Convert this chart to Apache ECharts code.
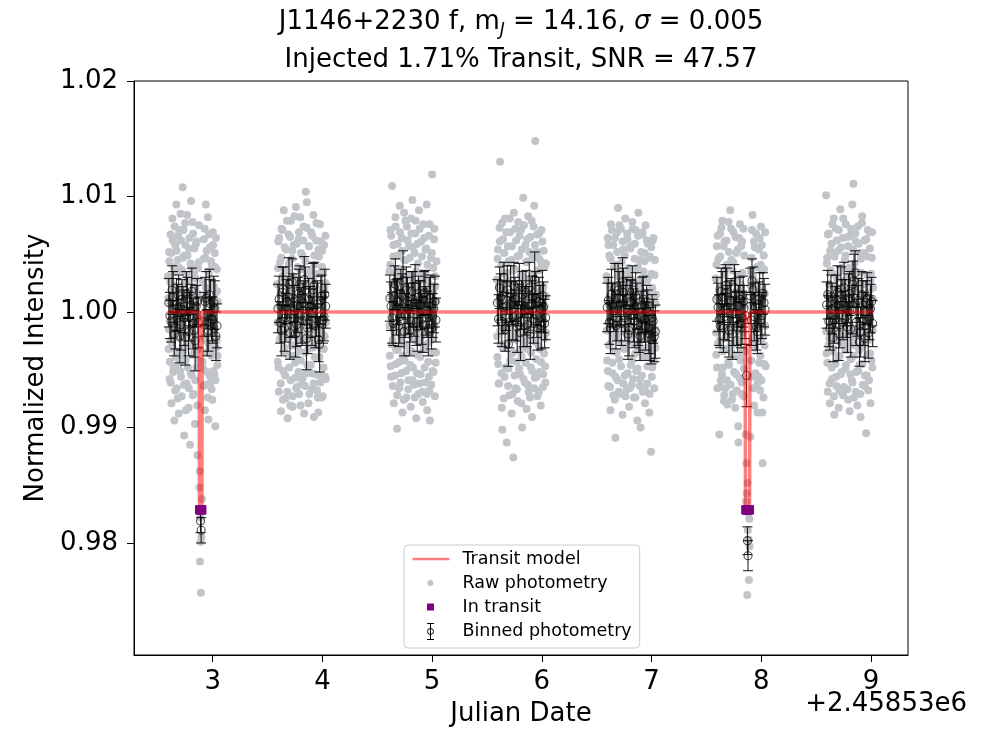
<!DOCTYPE html>
<html>
<head>
<meta charset="utf-8">
<script src="https://cdn.jsdelivr.net/npm/echarts@6/dist/echarts.min.js"></script>
<style>html,body{margin:0;padding:0;background:#fff}#c{width:986px;height:734px}</style>
</head>
<body>
<div id="c"></div>
<script>
// ---------------- data ----------------
const xTicks = [3, 4, 5, 6, 7, 8, 9];
const yTicks = [0.98, 0.99, 1.00, 1.01, 1.02];
const xOffsetText = '+2.45853e6';

// raw photometry per night: [time - 2458530, normalized flux]
const rawN1 = [[2.592,1.0031],[2.598,0.9968],[2.603,1.0052],[2.607,0.9942],[2.611,1.0008],[2.616,1.0067],[2.620,0.9975],[2.624,0.9921],[2.629,1.0024],[2.633,1.0081],[2.638,0.9989],[2.642,0.9953],[2.646,1.0039],[2.651,0.9906],[2.655,1.0012],[2.660,1.0058],[2.664,0.9961],[2.669,1.0093],[2.673,0.9934],[2.678,1.0004],[2.682,1.0045],[2.687,0.9978],[2.691,0.9912],[2.695,1.0071],[2.700,1.0019],[2.704,0.9949],[2.709,0.9995],[2.713,1.0062],[2.718,0.9927],[2.722,1.0036],[2.727,1.0108],[2.731,0.9966],[2.736,1.0003],[2.740,0.9893],[2.745,1.0049],[2.749,1.0077],[2.754,0.9958],[2.758,1.0015],[2.763,0.9938],[2.767,1.0084],[2.772,0.9985],[2.776,1.0028],[2.781,0.9917],[2.785,1.0055],[2.790,0.9972],[2.794,0.9885],[2.799,1.0042],[2.803,1.0096],[2.808,0.9945],[2.812,1.0011],[2.817,0.9963],[2.821,1.0068],[2.826,0.9929],[2.830,1.0034],[2.835,0.9981],[2.839,0.9903],[2.844,1.0021],[2.848,1.0059],[2.853,0.9952],[2.857,0.9994],[2.862,0.9876],[2.866,1.0038],[2.871,0.9968],[2.875,1.0075],[2.880,0.9848],[2.884,0.9784],[2.889,0.9822],[2.893,0.9757],[2.898,0.9805],[2.902,0.9838],[2.907,0.9957],[2.911,1.0026],[2.916,0.9936],[2.920,1.0063],[2.925,0.9988],[2.929,0.9915],[2.934,1.0047],[2.938,1.0093],[2.943,0.9975],[2.947,1.0014],[2.952,0.9948],[2.956,1.0082],[2.961,0.9907],[2.965,1.0033],[2.970,0.9971],[2.974,1.0056],[2.979,0.9939],[2.983,1.0008],[2.988,0.9962],[2.992,1.0041],[2.997,0.9924],[3.001,1.0069],[3.006,0.9983],[3.010,1.0022],[3.015,0.9946],[3.019,1.0051],[3.024,0.9901],[3.028,1.0017],[3.033,0.9969],[3.037,1.0037],[3.042,0.9954],[3.046,1.0009]];
const rawN1b = [[2.595,1.0012],[2.600,0.9985],[2.605,1.0044],[2.609,0.9957],[2.613,1.0026],[2.618,0.9939],[2.622,1.0051],[2.627,0.9973],[2.631,1.0007],[2.636,1.0062],[2.640,0.9948],[2.644,1.0019],[2.649,0.9981],[2.653,1.0074],[2.658,0.9932],[2.662,1.0035],[2.667,0.9966],[2.671,1.0053],[2.676,0.9991],[2.680,0.9925],[2.685,1.0066],[2.689,1.0002],[2.693,0.9955],[2.698,1.0038],[2.702,0.9977],[2.707,1.0085],[2.711,0.9944],[2.716,1.0013],[2.720,0.9962],[2.725,1.0047],[2.729,0.9988],[2.734,1.0071],[2.738,0.9937],[2.743,1.0024],[2.747,0.9969],[2.752,1.0058],[2.756,0.9915],[2.761,1.0032],[2.765,0.9979],[2.770,1.0049],[2.774,0.9952],[2.779,1.0008],[2.783,0.9934],[2.788,1.0064],[2.792,0.9986],[2.797,1.0017],[2.801,0.9947],[2.806,1.0039],[2.810,0.9973],[2.815,1.0078],[2.819,0.9928],[2.824,1.0004],[2.828,0.9964],[2.833,1.0055],[2.837,0.9992],[2.842,0.9941],[2.846,1.0029],[2.851,0.9976],[2.855,1.0061],[2.860,0.9919],[2.864,1.0016],[2.869,0.9958],[2.873,1.0043],[2.882,0.9862],[2.891,0.9801],[2.900,0.9829],[2.909,1.0011],[2.913,0.9951],[2.918,1.0046],[2.922,0.9978],[2.927,1.0072],[2.931,0.9937],[2.936,1.0021],[2.940,0.9965],[2.945,1.0053],[2.949,0.9992],[2.954,0.9926],[2.958,1.0035],[2.963,0.9974],[2.967,1.0067],[2.972,0.9945],[2.976,1.0009],[2.981,0.9981],[2.985,1.0044],[2.990,0.9933],[2.994,1.0027],[2.999,0.9968],[3.003,1.0058],[3.008,0.9949],[3.012,1.0003],[3.017,0.9986],[3.021,1.0039],[3.026,0.9941],[3.030,1.0064],[3.035,0.9975],[3.039,1.0018],[3.044,0.9962]];
const rawN2 = [[3.588,1.0024],[3.593,0.9957],[3.598,1.0061],[3.603,0.9931],[3.608,1.0005],[3.613,1.0043],[3.618,0.9978],[3.623,0.9914],[3.628,1.0072],[3.633,0.9989],[3.638,1.0031],[3.643,0.9949],[3.648,1.0088],[3.653,0.9966],[3.658,1.0012],[3.663,0.9925],[3.668,1.0054],[3.673,0.9983],[3.678,1.0036],[3.683,0.9908],[3.688,0.9997],[3.693,1.0067],[3.698,0.9952],[3.703,1.0019],[3.708,0.9919],[3.713,1.0079],[3.718,0.9971],[3.723,1.0046],[3.728,0.9918],[3.733,1.0003],[3.738,1.0058],[3.743,0.9962],[3.748,1.0027],[3.753,0.9943],[3.758,1.0091],[3.763,0.9985],[3.768,0.9935],[3.773,1.0039],[3.778,0.9976],[3.783,1.0063],[3.788,0.9929],[3.793,1.0015],[3.798,1.0082],[3.803,0.9958],[3.808,1.0006],[3.813,0.9938],[3.818,1.0049],[3.823,0.9991],[3.828,1.0074],[3.833,0.9912],[3.838,1.0022],[3.843,0.9965],[3.848,1.0104],[3.853,0.9947],[3.858,1.0095],[3.863,1.0033],[3.868,0.9979],[3.873,0.9921],[3.878,1.0057],[3.883,0.9986],[3.888,1.0011],[3.893,0.9954],[3.898,1.0069],[3.903,0.9933],[3.908,1.0028],[3.913,0.9969],[3.918,1.0084],[3.923,0.9909],[3.928,1.0041],[3.933,0.9993],[3.938,0.9946],[3.943,1.0062],[3.948,0.9975],[3.953,1.0017],[3.958,0.9926],[3.963,0.9913],[3.968,1.0048],[3.973,0.9961],[3.978,1.0076],[3.983,0.9939],[3.988,1.0009],[3.993,0.9982],[3.998,1.0053],[4.003,0.9927],[4.008,1.0035],[4.013,0.9968],[4.018,1.0021],[4.023,0.9944],[4.028,1.0066],[4.033,0.9991]];
const rawN2b = [[3.590,0.9991],[3.596,1.0038],[3.600,0.9952],[3.606,1.0064],[3.611,0.9976],[3.616,1.0015],[3.620,0.9938],[3.626,1.0047],[3.631,0.9983],[3.636,1.0071],[3.641,0.9924],[3.646,1.0029],[3.650,0.9969],[3.656,1.0056],[3.661,0.9945],[3.666,1.0008],[3.671,0.9987],[3.676,1.0079],[3.681,0.9931],[3.686,1.0022],[3.691,0.9962],[3.696,1.0042],[3.701,0.9978],[3.706,1.0065],[3.711,0.9941],[3.716,1.0004],[3.721,0.9989],[3.726,1.0053],[3.731,0.9927],[3.736,1.0031],[3.741,0.9971],[3.746,1.0083],[3.751,0.9956],[3.756,1.0012],[3.761,0.9934],[3.766,1.0059],[3.771,0.9985],[3.776,1.0026],[3.781,0.9948],[3.786,1.0069],[3.791,0.9966],[3.796,1.0037],[3.801,0.9919],[3.806,1.0051],[3.811,0.9992],[3.816,1.0018],[3.821,0.9943],[3.826,1.0062],[3.831,0.9975],[3.836,1.0009],[3.841,0.9936],[3.846,1.0044],[3.851,0.9981],[3.856,1.0073],[3.861,0.9954],[3.866,1.0024],[3.871,0.9968],[3.876,1.0057],[3.881,0.9929],[3.886,1.0035],[3.891,0.9987],[3.896,1.0011],[3.901,0.9947],[3.906,1.0066],[3.911,0.9973],[3.916,1.0028],[3.921,0.9938],[3.926,1.0049],[3.931,0.9961],[3.936,1.0005],[3.941,0.9984],[3.946,1.0077],[3.951,0.9932],[3.956,1.0033],[3.961,0.9977],[3.966,1.0054],[3.971,0.9945],[3.976,1.0019],[3.981,0.9969],[3.986,1.0061],[3.991,0.9926],[3.996,1.0039],[4.001,0.9988],[4.006,1.0013],[4.011,0.9952],[4.016,1.0058],[4.021,0.9979],[4.026,1.0025],[4.031,0.9942]];
const rawN3 = [[4.610,1.0035],[4.615,0.9962],[4.620,1.0071],[4.625,0.9944],[4.630,1.0013],[4.635,1.0109],[4.640,0.9976],[4.645,1.0048],[4.650,0.9921],[4.655,1.0026],[4.660,0.9987],[4.665,1.0082],[4.670,0.9955],[4.675,1.0006],[4.680,0.9899],[4.685,1.0059],[4.690,0.9968],[4.695,1.0037],[4.700,0.9934],[4.705,1.0092],[4.710,0.9981],[4.715,1.0018],[4.720,0.9947],[4.725,1.0064],[4.730,0.9913],[4.735,1.0029],[4.740,0.9972],[4.745,1.0086],[4.750,0.9958],[4.755,1.0003],[4.760,1.0045],[4.765,0.9926],[4.770,1.0074],[4.775,0.9989],[4.780,1.0032],[4.785,0.9941],[4.790,1.0057],[4.795,0.9966],[4.800,1.0011],[4.805,0.9918],[4.810,1.0068],[4.815,0.9979],[4.820,1.0097],[4.825,0.9952],[4.830,1.0024],[4.835,0.9937],[4.840,1.0051],[4.845,0.9984],[4.850,1.0079],[4.855,0.9908],[4.860,1.0015],[4.865,0.9963],[4.870,1.0042],[4.875,0.9929],[4.880,1.0088],[4.885,0.9974],[4.890,1.0007],[4.895,0.9946],[4.900,1.0061],[4.905,0.9991],[4.910,1.0033],[4.915,0.9922],[4.920,1.0076],[4.925,0.9968],[4.930,1.0019],[4.935,0.9939],[4.940,1.0054],[4.945,0.9981],[4.950,1.0093],[4.955,0.9915],[4.960,1.0027],[4.965,0.9957],[4.970,1.0066],[4.975,0.9932],[4.980,0.9906],[4.985,1.0012],[4.990,1.0047],[4.995,0.9976],[5.000,1.0119],[5.005,0.9949],[5.010,1.0038],[5.015,0.9986],[5.020,1.0072],[5.025,0.9927],[5.030,1.0022],[5.035,0.9965],[5.040,1.0044]];
const rawN3b = [[4.612,0.9988],[4.617,1.0041],[4.622,0.9953],[4.627,1.0066],[4.632,0.9972],[4.637,1.0024],[4.642,0.9936],[4.647,1.0058],[4.652,0.9983],[4.657,1.0011],[4.662,0.9945],[4.667,1.0074],[4.672,0.9967],[4.677,1.0032],[4.682,0.9928],[4.687,1.0049],[4.692,0.9991],[4.697,1.0016],[4.702,0.9957],[4.707,1.0069],[4.712,0.9939],[4.717,1.0037],[4.722,0.9978],[4.727,1.0053],[4.732,0.9962],[4.737,1.0008],[4.742,0.9924],[4.747,1.0045],[4.752,0.9986],[4.757,1.0079],[4.762,0.9949],[4.767,1.0021],[4.772,0.9971],[4.777,1.0062],[4.782,0.9933],[4.787,1.0014],[4.792,0.9982],[4.797,1.0047],[4.802,0.9954],[4.807,1.0081],[4.812,0.9966],[4.817,1.0029],[4.822,0.9941],[4.827,1.0056],[4.832,0.9989],[4.837,1.0003],[4.842,0.9926],[4.847,1.0068],[4.852,0.9975],[4.857,1.0035],[4.862,0.9947],[4.867,1.0059],[4.872,0.9984],[4.877,1.0019],[4.882,0.9938],[4.887,1.0072],[4.892,0.9961],[4.897,1.0027],[4.902,0.9979],[4.907,1.0048],[4.912,0.9931],[4.917,1.0012],[4.922,0.9968],[4.927,1.0064],[4.932,0.9952],[4.937,1.0033],[4.942,0.9986],[4.947,1.0055],[4.952,0.9929],[4.957,1.0041],[4.962,0.9973],[4.967,1.0007],[4.972,0.9944],[4.977,1.0076],[4.982,0.9981],[4.987,1.0023],[4.992,0.9937],[4.997,1.0051],[5.002,0.9965],[5.007,1.0017],[5.012,0.9948],[5.017,1.0063],[5.022,0.9988],[5.027,1.0031],[5.032,0.9956],[5.037,1.0009]];
const rawN4 = [[5.590,1.0028],[5.595,0.9961],[5.600,1.0054],[5.605,0.9938],[5.610,1.0009],[5.615,1.0073],[5.620,1.0130],[5.625,0.9972],[5.630,1.0041],[5.635,0.9917],[5.640,0.9898],[5.645,1.0063],[5.650,0.9985],[5.655,1.0019],[5.660,0.9944],[5.665,1.0081],[5.670,0.9969],[5.675,1.0034],[5.680,0.9887],[5.685,1.0002],[5.690,1.0057],[5.695,0.9951],[5.700,1.0026],[5.705,0.9928],[5.710,1.0069],[5.715,0.9978],[5.720,1.0045],[5.725,0.9912],[5.730,1.0011],[5.735,0.9965],[5.740,0.9874],[5.745,1.0086],[5.750,0.9992],[5.755,1.0037],[5.760,0.9934],[5.765,1.0062],[5.770,0.9957],[5.775,1.0016],[5.780,0.9923],[5.785,1.0078],[5.790,0.9981],[5.795,1.0049],[5.800,0.9946],[5.805,1.0006],[5.810,1.0071],[5.815,0.9962],[5.820,0.9900],[5.825,1.0031],[5.830,1.0099],[5.835,0.9975],[5.840,1.0023],[5.845,0.9939],[5.850,1.0058],[5.855,0.9987],[5.860,0.9916],[5.865,1.0044],[5.870,0.9968],[5.875,1.0083],[5.880,0.9931],[5.885,1.0012],[5.890,0.9976],[5.895,1.0065],[5.900,0.9952],[5.905,1.0029],[5.910,0.9909],[5.915,1.0047],[5.920,0.9984],[5.925,1.0074],[5.930,1.0092],[5.935,0.9943],[5.940,1.0148],[5.945,1.0018],[5.950,0.9959],[5.955,1.0052],[5.960,0.9927],[5.965,1.0036],[5.970,0.9971],[5.975,1.0068],[5.980,0.9948],[5.985,1.0008],[5.990,0.9919],[5.995,1.0043],[6.000,0.9979],[6.005,1.0061],[6.010,0.9935],[6.015,1.0022],[6.020,0.9964],[6.025,1.0039],[6.030,0.9953],[6.035,1.0014],[6.040,0.9982]];
const rawN4b = [[5.592,0.9979],[5.597,1.0046],[5.602,0.9955],[5.607,1.0022],[5.612,0.9938],[5.617,1.0061],[5.622,0.9984],[5.627,1.0013],[5.632,0.9947],[5.637,1.0077],[5.642,0.9969],[5.647,1.0034],[5.652,0.9925],[5.657,1.0051],[5.662,0.9991],[5.667,1.0008],[5.672,0.9952],[5.677,1.0069],[5.682,0.9973],[5.687,1.0027],[5.692,0.9936],[5.697,1.0044],[5.702,0.9987],[5.707,1.0081],[5.712,0.9958],[5.717,1.0015],[5.722,0.9964],[5.727,1.0057],[5.732,0.9929],[5.737,1.0036],[5.742,0.9981],[5.747,1.0006],[5.752,0.9945],[5.757,1.0072],[5.762,0.9976],[5.767,1.0024],[5.772,0.9933],[5.777,1.0048],[5.782,0.9989],[5.787,1.0011],[5.792,0.9951],[5.797,1.0066],[5.802,0.9967],[5.807,1.0031],[5.812,0.9921],[5.817,1.0054],[5.822,0.9983],[5.827,1.0019],[5.832,0.9942],[5.837,1.0075],[5.842,0.9971],[5.847,1.0004],[5.852,0.9956],[5.857,1.0043],[5.862,0.9986],[5.867,1.0063],[5.872,0.9937],[5.877,1.0028],[5.882,0.9978],[5.887,1.0052],[5.892,0.9926],[5.897,1.0016],[5.902,0.9965],[5.907,1.0079],[5.912,0.9949],[5.917,1.0033],[5.922,0.9992],[5.927,1.0009],[5.932,0.9934],[5.937,1.0058],[5.942,0.9974],[5.947,1.0025],[5.952,0.9944],[5.957,1.0067],[5.962,0.9985],[5.967,1.0012],[5.972,0.9931],[5.977,1.0046],[5.982,0.9968],[5.987,1.0037],[5.992,0.9957],[5.997,1.0071],[6.002,0.9982],[6.007,1.0018],[6.012,0.9946],[6.017,1.0053],[6.022,0.9977],[6.027,1.0005],[6.032,0.9939],[6.037,1.0042]];
const rawN5 = [[6.590,1.0031],[6.595,0.9958],[6.600,1.0064],[6.605,0.9936],[6.610,1.0007],[6.615,1.0049],[6.620,0.9972],[6.625,0.9915],[6.630,1.0076],[6.635,0.9989],[6.640,1.0023],[6.645,0.9947],[6.650,1.0058],[6.655,0.9966],[6.660,1.0014],[6.665,0.9924],[6.670,0.9891],[6.675,1.0041],[6.680,0.9978],[6.685,1.0069],[6.690,0.9941],[6.695,1.0090],[6.700,1.0003],[6.705,0.9959],[6.710,1.0035],[6.715,0.9929],[6.720,1.0072],[6.725,0.9983],[6.730,1.0019],[6.735,0.9911],[6.740,1.0054],[6.745,0.9969],[6.750,1.0027],[6.755,0.9945],[6.760,1.0081],[6.765,0.9987],[6.770,1.0011],[6.775,0.9933],[6.780,1.0063],[6.785,0.9975],[6.790,1.0038],[6.795,0.9918],[6.800,1.0005],[6.805,1.0057],[6.810,0.9954],[6.815,1.0024],[6.820,0.9937],[6.825,1.0078],[6.830,0.9981],[6.835,1.0016],[6.840,0.9926],[6.845,1.0046],[6.850,0.9964],[6.855,1.0071],[6.860,0.9949],[6.865,1.0009],[6.870,0.9906],[6.875,1.0039],[6.880,1.0086],[6.885,0.9973],[6.890,1.0021],[6.895,0.9942],[6.900,0.9900],[6.905,1.0052],[6.910,0.9985],[6.915,1.0067],[6.920,0.9931],[6.925,1.0013],[6.930,0.9967],[6.935,1.0044],[6.940,0.9921],[6.945,1.0075],[6.950,0.9979],[6.955,1.0026],[6.960,0.9938],[6.965,1.0059],[6.970,0.9961],[6.975,1.0018],[6.980,0.9913],[6.985,1.0048],[6.990,0.9986],[6.995,0.9879],[7.000,1.0033],[7.005,0.9952],[7.010,1.0062],[7.015,0.9974],[7.020,1.0008],[7.025,0.9934],[7.030,1.0045],[7.035,0.9969],[7.040,1.0015]];
const rawN5b = [[6.592,0.9984],[6.597,1.0027],[6.602,0.9949],[6.607,1.0058],[6.612,0.9971],[6.617,1.0013],[6.622,0.9935],[6.627,1.0046],[6.632,0.9988],[6.637,1.0071],[6.642,0.9956],[6.647,1.0022],[6.652,0.9928],[6.657,1.0039],[6.662,0.9979],[6.667,1.0064],[6.672,0.9944],[6.677,1.0009],[6.682,0.9965],[6.687,1.0052],[6.692,0.9986],[6.697,1.0031],[6.702,0.9931],[6.707,1.0075],[6.712,0.9974],[6.717,1.0017],[6.722,0.9953],[6.727,1.0043],[6.732,0.9989],[6.737,1.0061],[6.742,0.9938],[6.747,1.0024],[6.752,0.9968],[6.757,1.0049],[6.762,0.9927],[6.767,1.0006],[6.772,0.9981],[6.777,1.0068],[6.782,0.9947],[6.787,1.0033],[6.792,0.9975],[6.797,1.0015],[6.802,0.9934],[6.807,1.0055],[6.812,0.9987],[6.817,1.0028],[6.822,0.9958],[6.827,1.0072],[6.832,0.9942],[6.837,1.0011],[6.842,0.9972],[6.847,1.0059],[6.852,0.9926],[6.857,1.0037],[6.862,0.9983],[6.867,1.0004],[6.872,0.9951],[6.877,1.0066],[6.882,0.9967],[6.887,1.0026],[6.892,0.9936],[6.897,1.0045],[6.902,0.9978],[6.907,1.0018],[6.912,0.9945],[6.917,1.0069],[6.922,0.9961],[6.927,1.0035],[6.932,0.9991],[6.937,1.0051],[6.942,0.9932],[6.947,1.0008],[6.952,0.9969],[6.957,1.0062],[6.962,0.9953],[6.967,1.0029],[6.972,0.9984],[6.977,1.0047],[6.982,0.9929],[6.987,1.0013],[6.992,0.9966],[6.997,1.0056],[7.002,0.9944],[7.007,1.0021],[7.012,0.9979],[7.017,1.0064],[7.022,0.9957],[7.027,1.0032],[7.032,0.9985],[7.037,1.0007]];
const rawN6 = [[7.585,1.0029],[7.590,0.9963],[7.595,1.0057],[7.600,0.9934],[7.605,1.0012],[7.610,1.0046],[7.617,0.9894],[7.620,0.9975],[7.625,1.0068],[7.630,0.9941],[7.635,1.0021],[7.640,0.9986],[7.645,1.0079],[7.650,0.9952],[7.655,1.0004],[7.660,0.9923],[7.665,1.0061],[7.672,0.9934],[7.675,1.0037],[7.680,0.9968],[7.685,1.0041],[7.690,0.9920],[7.695,1.0016],[7.700,0.9957],[7.705,1.0052],[7.710,0.9981],[7.717,1.0088],[7.720,0.9937],[7.725,1.0072],[7.730,0.9965],[7.735,1.0009],[7.740,0.9929],[7.745,1.0043],[7.750,0.9972],[7.755,1.0027],[7.763,0.9917],[7.765,1.0065],[7.770,0.9946],[7.775,1.0018],[7.780,0.9984],[7.785,1.0054],[7.790,0.9901],[7.792,0.9887],[7.795,1.0031],[7.800,0.9961],[7.805,1.0076],[7.810,0.9958],[7.815,1.0024],[7.820,0.9939],[7.825,1.0061],[7.830,0.9982],[7.835,1.0013],[7.840,0.9927],[7.845,1.0049],[7.850,0.9966],[7.858,0.9894],[7.863,0.9869],[7.868,0.9843],[7.872,0.9755],[7.877,0.9811],[7.882,0.9826],[7.887,0.9768],[7.893,0.9797],[7.900,0.9892],[7.905,1.0035],[7.910,0.9944],[7.915,1.0071],[7.920,1.0084],[7.925,0.9978],[7.930,1.0008],[7.935,0.9919],[7.940,1.0056],[7.945,0.9969],[7.950,1.0026],[7.955,0.9944],[7.960,1.0039],[7.965,0.9913],[7.973,0.9944],[7.975,1.0019],[7.980,0.9956],[7.985,1.0064],[7.990,0.9932],[7.995,1.0041],[8.000,0.9977],[8.005,1.0058],[8.009,0.9913],[8.012,0.9869],[8.015,1.0011],[8.020,0.9926],[8.025,1.0037],[8.030,0.9971],[8.035,1.0069],[8.040,0.9953]];
const rawN6b = [[7.587,0.9982],[7.592,1.0041],[7.597,0.9952],[7.602,1.0066],[7.607,0.9973],[7.612,1.0019],[7.622,0.9935],[7.627,1.0048],[7.632,0.9989],[7.637,1.0073],[7.642,0.9946],[7.647,1.0014],[7.652,0.9966],[7.657,1.0057],[7.662,0.9928],[7.667,1.0032],[7.677,0.9979],[7.682,1.0062],[7.687,0.9941],[7.692,1.0025],[7.697,0.9985],[7.702,1.0078],[7.707,0.9954],[7.712,1.0009],[7.722,0.9971],[7.727,1.0045],[7.732,0.9924],[7.737,1.0036],[7.742,0.9987],[7.747,1.0069],[7.752,0.9948],[7.757,1.0012],[7.767,0.9962],[7.772,1.0051],[7.777,0.9932],[7.782,1.0027],[7.787,0.9976],[7.797,1.0064],[7.802,0.9943],[7.807,1.0018],[7.812,0.9988],[7.817,1.0057],[7.822,0.9929],[7.827,1.0034],[7.832,0.9967],[7.837,1.0072],[7.842,0.9951],[7.847,1.0006],[7.860,0.9836],[7.874,0.9852],[7.884,0.9803],[7.890,0.9821],[7.902,1.0023],[7.907,0.9958],[7.912,1.0047],[7.917,0.9972],[7.922,1.0031],[7.927,0.9934],[7.932,1.0061],[7.937,0.9984],[7.942,1.0013],[7.947,0.9947],[7.952,1.0068],[7.957,0.9975],[7.962,1.0022],[7.967,0.9938],[7.977,1.0054],[7.982,0.9986],[7.987,1.0009],[7.992,0.9962],[7.997,1.0074],[8.002,0.9941],[8.007,1.0036],[8.017,0.9979],[8.022,1.0049],[8.027,0.9955],[8.032,1.0016],[8.037,0.9988]];
const rawN7 = [[8.590,1.0101],[8.595,0.9964],[8.600,1.0047],[8.605,0.9931],[8.610,1.0014],[8.615,1.0068],[8.620,0.9977],[8.625,0.9921],[8.630,1.0036],[8.635,0.9985],[8.640,1.0059],[8.645,0.9942],[8.650,1.0023],[8.655,0.9968],[8.660,1.0081],[8.665,0.9911],[8.670,1.0004],[8.675,0.9955],[8.680,1.0072],[8.685,0.9936],[8.690,1.0029],[8.695,0.9981],[8.700,1.0053],[8.705,0.9917],[8.710,1.0016],[8.715,0.9962],[8.720,1.0089],[8.725,0.9946],[8.730,1.0038],[8.735,0.9974],[8.740,1.0064],[8.745,0.9928],[8.750,1.0007],[8.755,0.9989],[8.760,1.0045],[8.765,0.9951],[8.770,1.0076],[8.775,0.9967],[8.780,1.0019],[8.785,0.9933],[8.790,1.0057],[8.795,0.9978],[8.800,1.0031],[8.805,0.9914],[8.810,1.0066],[8.815,0.9959],[8.820,1.0012],[8.825,0.9941],[8.830,1.0093],[8.835,0.9983],[8.840,1.0111],[8.845,0.9926],[8.850,1.0042],[8.855,0.9971],[8.860,1.0061],[8.865,0.9948],[8.870,1.0008],[8.875,0.9919],[8.880,1.0074],[8.885,0.9986],[8.890,1.0027],[8.895,0.9954],[8.900,1.0051],[8.905,0.9909],[8.910,1.0034],[8.915,0.9969],[8.920,1.0083],[8.925,0.9937],[8.930,1.0015],[8.935,0.9979],[8.940,1.0062],[8.945,0.9945],[8.950,1.0024],[8.955,0.9895],[8.960,1.0048],[8.965,0.9963],[8.970,1.0071],[8.975,0.9932],[8.980,1.0005],[8.985,0.9976],[8.990,1.0055],[8.995,0.9921],[9.000,1.0033],[9.005,0.9958],[9.010,1.0069],[9.015,0.9984],[9.020,1.0021]];
const rawN7b = [[8.592,0.9983],[8.597,1.0042],[8.602,0.9956],[8.607,1.0067],[8.612,0.9971],[8.617,1.0024],[8.622,0.9938],[8.627,1.0053],[8.632,0.9989],[8.637,1.0011],[8.642,0.9952],[8.647,1.0076],[8.652,0.9966],[8.657,1.0033],[8.662,0.9927],[8.667,1.0048],[8.672,0.9985],[8.677,1.0019],[8.682,0.9944],[8.687,1.0062],[8.692,0.9975],[8.697,1.0007],[8.702,0.9961],[8.707,1.0071],[8.712,0.9932],[8.717,1.0036],[8.722,0.9979],[8.727,1.0056],[8.732,0.9948],[8.737,1.0014],[8.742,0.9987],[8.747,1.0081],[8.752,0.9935],[8.757,1.0027],[8.762,0.9968],[8.767,1.0049],[8.772,0.9954],[8.777,1.0003],[8.782,0.9981],[8.787,1.0065],[8.792,0.9924],[8.797,1.0038],[8.802,0.9973],[8.807,1.0016],[8.812,0.9946],[8.817,1.0072],[8.822,0.9986],[8.827,1.0029],[8.832,0.9939],[8.837,1.0054],[8.842,0.9962],[8.847,1.0009],[8.852,0.9977],[8.857,1.0068],[8.862,0.9931],[8.867,1.0035],[8.872,0.9984],[8.877,1.0021],[8.882,0.9949],[8.887,1.0059],[8.892,0.9967],[8.897,1.0013],[8.902,0.9929],[8.907,1.0046],[8.912,0.9988],[8.917,1.0077],[8.922,0.9955],[8.927,1.0024],[8.932,0.9972],[8.937,1.0051],[8.942,0.9936],[8.947,1.0006],[8.952,0.9983],[8.957,1.0063],[8.962,0.9945],[8.967,1.0032],[8.972,0.9976],[8.977,1.0017],[8.982,0.9941],[8.987,1.0069],[8.992,0.9964],[8.997,1.0028],[9.002,0.9985],[9.007,1.0047],[9.012,0.9952],[9.017,1.0011]];

// binned photometry: [time, flux, error]
const binN1 = [[2.600,1.0008,0.0021],[2.620,0.9992,0.0018],[2.640,1.0013,0.0022],[2.660,0.9987,0.0019],[2.680,1.0004,0.0020],[2.700,0.9979,0.0023],[2.720,1.0011,0.0017],[2.740,0.9995,0.0024],[2.760,1.0016,0.0019],[2.780,0.9983,0.0021],[2.800,1.0006,0.0018],[2.820,0.9990,0.0022],[2.840,0.9975,0.0026],[2.860,1.0009,0.0020],[2.889,0.9819,0.0010],[2.895,0.9811,0.0011],[2.920,0.9998,0.0019],[2.940,1.0012,0.0023],[2.960,0.9984,0.0018],[2.980,1.0007,0.0021],[3.000,0.9993,0.0020],[3.020,1.0003,0.0024],[3.040,0.9988,0.0019]];
const binN1b = [[2.610,0.9997,0.0020],[2.630,1.0019,0.0021],[2.650,0.9981,0.0019],[2.670,1.0006,0.0023],[2.690,1.0014,0.0018],[2.710,0.9989,0.0022],[2.730,1.0002,0.0020],[2.750,0.9978,0.0024],[2.770,1.0011,0.0019],[2.790,0.9996,0.0021],[2.810,1.0018,0.0020],[2.830,0.9984,0.0023],[2.850,1.0005,0.0018],[2.870,0.9991,0.0022],[2.930,1.0009,0.0021],[2.950,0.9982,0.0020],[2.970,1.0015,0.0022],[2.990,0.9994,0.0019],[3.010,1.0008,0.0023],[3.030,0.9979,0.0021]];
const binN2 = [[3.595,1.0003,0.0021],[3.615,0.9991,0.0018],[3.635,1.0017,0.0022],[3.655,0.9986,0.0020],[3.675,1.0009,0.0019],[3.695,1.0024,0.0023],[3.715,0.9995,0.0017],[3.735,1.0012,0.0021],[3.755,0.9981,0.0020],[3.775,1.0006,0.0024],[3.795,1.0021,0.0019],[3.815,0.9993,0.0022],[3.835,1.0028,0.0020],[3.855,0.9977,0.0027],[3.875,1.0011,0.0018],[3.895,0.9999,0.0021],[3.915,1.0019,0.0023],[3.935,0.9988,0.0019],[3.955,1.0007,0.0020],[3.975,0.9972,0.0024],[3.995,1.0014,0.0018],[4.015,0.9996,0.0021],[4.030,1.0005,0.0019]];
const binN2b = [[3.605,1.0011,0.0020],[3.625,0.9984,0.0022],[3.645,1.0020,0.0019],[3.665,0.9995,0.0021],[3.685,1.0013,0.0018],[3.705,0.9982,0.0023],[3.725,1.0026,0.0020],[3.745,1.0001,0.0022],[3.765,0.9989,0.0019],[3.785,1.0016,0.0021],[3.805,0.9997,0.0024],[3.825,1.0008,0.0019],[3.845,1.0019,0.0020],[3.865,0.9986,0.0022],[3.885,1.0004,0.0018],[3.905,0.9992,0.0021],[3.925,1.0023,0.0020],[3.945,1.0002,0.0023],[3.965,0.9976,0.0019],[3.985,1.0010,0.0021],[4.005,0.9993,0.0020],[4.022,1.0015,0.0022]];
const binN3 = [[4.615,1.0012,0.0020],[4.635,0.9995,0.0022],[4.655,1.0021,0.0019],[4.675,1.0004,0.0024],[4.695,0.9988,0.0018],[4.715,1.0016,0.0021],[4.735,1.0027,0.0026],[4.755,0.9997,0.0019],[4.775,1.0010,0.0020],[4.795,0.9984,0.0022],[4.815,1.0018,0.0017],[4.835,1.0002,0.0023],[4.855,0.9991,0.0020],[4.875,1.0013,0.0018],[4.895,1.0006,0.0021],[4.915,0.9989,0.0024],[4.935,1.0017,0.0019],[4.955,0.9998,0.0020],[4.975,1.0008,0.0022],[4.995,0.9986,0.0018],[5.015,1.0003,0.0021],[5.035,0.9993,0.0019]];
const binN3b = [[4.625,1.0005,0.0021],[4.645,0.9990,0.0019],[4.665,1.0024,0.0022],[4.685,1.0009,0.0020],[4.705,0.9996,0.0023],[4.725,1.0014,0.0019],[4.745,0.9983,0.0021],[4.765,1.0019,0.0020],[4.785,1.0003,0.0022],[4.805,0.9992,0.0018],[4.825,1.0011,0.0024],[4.845,1.0022,0.0019],[4.865,0.9987,0.0021],[4.885,1.0007,0.0020],[4.905,0.9994,0.0022],[4.925,1.0016,0.0019],[4.945,1.0001,0.0021],[4.965,0.9985,0.0023],[4.985,1.0012,0.0020],[5.005,0.9997,0.0019],[5.025,1.0009,0.0022]];
const binN4 = [[5.595,1.0008,0.0020],[5.615,1.0021,0.0018],[5.635,0.9992,0.0022],[5.655,1.0030,0.0013],[5.675,1.0005,0.0021],[5.695,0.9972,0.0019],[5.715,1.0016,0.0024],[5.735,0.9996,0.0020],[5.755,1.0011,0.0019],[5.775,0.9987,0.0022],[5.795,1.0024,0.0018],[5.815,1.0006,0.0021],[5.835,0.9993,0.0023],[5.855,1.0017,0.0019],[5.875,1.0002,0.0020],[5.895,0.9981,0.0022],[5.915,1.0013,0.0018],[5.935,1.0028,0.0024],[5.955,0.9997,0.0019],[5.975,1.0009,0.0021],[5.995,0.9988,0.0020],[6.015,1.0004,0.0022],[6.035,0.9995,0.0019]];
const binN4b = [[5.605,0.9994,0.0021],[5.625,1.0013,0.0020],[5.645,1.0004,0.0023],[5.665,0.9985,0.0019],[5.685,1.0019,0.0021],[5.705,0.9991,0.0022],[5.725,1.0008,0.0019],[5.745,1.0023,0.0020],[5.765,0.9997,0.0022],[5.785,1.0006,0.0018],[5.805,0.9982,0.0024],[5.825,1.0015,0.0020],[5.845,1.0001,0.0021],[5.865,0.9989,0.0019],[5.885,1.0021,0.0022],[5.905,1.0007,0.0020],[5.925,0.9994,0.0021],[5.945,1.0012,0.0023],[5.965,0.9986,0.0019],[5.985,1.0003,0.0020],[6.005,1.0014,0.0022],[6.025,0.9990,0.0021]];
const binN5 = [[6.595,1.0004,0.0021],[6.615,0.9991,0.0019],[6.635,1.0015,0.0022],[6.655,1.0001,0.0018],[6.675,0.9988,0.0020],[6.695,1.0019,0.0023],[6.715,1.0007,0.0019],[6.735,1.0026,0.0021],[6.755,0.9995,0.0020],[6.775,1.0012,0.0018],[6.795,0.9984,0.0022],[6.815,1.0008,0.0019],[6.835,0.9997,0.0023],[6.855,1.0014,0.0020],[6.875,0.9989,0.0018],[6.895,0.9979,0.0021],[6.915,1.0006,0.0024],[6.935,0.9993,0.0019],[6.955,1.0003,0.0020],[6.975,0.9986,0.0022],[6.995,0.9976,0.0021],[7.015,0.9992,0.0019],[7.035,0.9983,0.0023]];
const binN5b = [[6.605,1.0010,0.0020],[6.625,0.9986,0.0022],[6.645,1.0006,0.0019],[6.665,1.0021,0.0021],[6.685,0.9995,0.0020],[6.705,1.0012,0.0023],[6.725,0.9990,0.0019],[6.745,1.0017,0.0021],[6.765,1.0003,0.0020],[6.785,0.9981,0.0022],[6.805,1.0009,0.0019],[6.825,1.0019,0.0021],[6.845,0.9992,0.0023],[6.865,1.0005,0.0020],[6.885,0.9984,0.0019],[6.905,0.9996,0.0022],[6.925,1.0011,0.0020],[6.945,0.9988,0.0021],[6.965,1.0000,0.0019],[6.985,0.9981,0.0023],[7.005,0.9995,0.0020],[7.025,0.9979,0.0022]];
const binN6 = [[7.595,1.0011,0.0019],[7.615,0.9993,0.0022],[7.635,1.0018,0.0020],[7.655,0.9986,0.0021],[7.675,1.0023,0.0018],[7.695,0.9999,0.0024],[7.715,1.0008,0.0019],[7.735,0.9981,0.0022],[7.755,1.0021,0.0020],[7.775,0.9994,0.0023],[7.795,1.0005,0.0018],[7.815,0.9990,0.0021],[7.835,1.0009,0.0022],[7.852,0.9997,0.0020],[7.866,0.9945,0.0027],[7.874,0.9802,0.0012],[7.879,0.9789,0.0013],[7.900,1.0014,0.0024],[7.915,1.0027,0.0019],[7.935,0.9996,0.0021],[7.955,0.9987,0.0020],[7.975,1.0007,0.0019],[7.995,0.9993,0.0021],[8.015,1.0016,0.0018],[8.035,1.0002,0.0022]];
const binN6b = [[7.605,1.0004,0.0021],[7.625,0.9988,0.0019],[7.645,1.0013,0.0022],[7.665,0.9996,0.0020],[7.685,1.0017,0.0021],[7.705,0.9984,0.0023],[7.725,1.0010,0.0019],[7.745,0.9992,0.0021],[7.765,1.0015,0.0020],[7.785,0.9987,0.0022],[7.805,1.0011,0.0019],[7.825,0.9995,0.0023],[7.843,1.0003,0.0020],[7.908,0.9993,0.0022],[7.925,1.0019,0.0020],[7.945,1.0004,0.0021],[7.965,0.9983,0.0019],[7.985,1.0012,0.0022],[8.005,0.9997,0.0020],[8.025,1.0008,0.0021]];
const binN7 = [[8.595,1.0006,0.0020],[8.615,0.9992,0.0022],[8.635,1.0013,0.0019],[8.655,0.9978,0.0021],[8.675,1.0004,0.0018],[8.695,1.0017,0.0023],[8.715,0.9989,0.0020],[8.735,1.0009,0.0019],[8.755,1.0021,0.0022],[8.775,0.9996,0.0018],[8.795,1.0012,0.0021],[8.815,0.9985,0.0024],[8.835,1.0024,0.0020],[8.855,1.0034,0.0019],[8.875,1.0001,0.0022],[8.895,0.9974,0.0021],[8.915,1.0015,0.0020],[8.935,0.9994,0.0023],[8.955,1.0008,0.0019],[8.975,0.9982,0.0022],[8.995,1.0003,0.0021],[9.015,0.9990,0.0020]];
const binN7b = [[8.605,1.0015,0.0021],[8.625,0.9986,0.0019],[8.645,1.0003,0.0022],[8.665,0.9993,0.0020],[8.685,1.0011,0.0021],[8.705,0.9981,0.0023],[8.725,1.0020,0.0019],[8.745,0.9997,0.0021],[8.765,1.0008,0.0020],[8.785,0.9987,0.0022],[8.805,1.0016,0.0019],[8.825,1.0002,0.0021],[8.845,1.0027,0.0023],[8.865,0.9991,0.0020],[8.885,1.0010,0.0019],[8.905,0.9983,0.0022],[8.925,1.0006,0.0021],[8.945,0.9977,0.0020],[8.965,1.0012,0.0022],[8.985,0.9995,0.0019],[9.005,1.0009,0.0021]];

// transit model (box model, depth 1.71 %)
const modelCurve = [[2.592,1],[2.877,1],[2.880,0.98287],[2.902,0.98287],[2.905,1],[7.852,1],[7.856,0.98287],[7.893,0.98287],[7.897,1],[9.020,1]];
// in-transit samples shown at the model level
const inTransit = [[2.880,0.98287],[2.884,0.98287],[2.889,0.98287],[2.893,0.98287],[2.898,0.98287],[2.902,0.98287],[7.858,0.98287],[7.863,0.98287],[7.868,0.98287],[7.872,0.98287],[7.877,0.98287],[7.882,0.98287],[7.887,0.98287],[7.893,0.98287]];

// ---------------- chart ----------------
const FONT = 'DejaVu Sans';
const rawAll = [].concat(rawN1, rawN1b, rawN2, rawN2b, rawN3, rawN3b, rawN4, rawN4b, rawN5, rawN5b, rawN6, rawN6b, rawN7, rawN7b);
const binAll = [].concat(binN1, binN1b, binN2, binN2b, binN3, binN3b, binN4, binN4b, binN5, binN5b, binN6, binN6b, binN7, binN7b);

const chart = echarts.init(document.getElementById('c'), null, {renderer: 'canvas'});
const CAP = 5;
const BIN_COLOR = 'rgba(0,0,0,0.85)';
const option = {
  animation: false,
  backgroundColor: '#fff',
  grid: {left: 134, right: 78, top: 81, bottom: 79, show: true, borderColor: '#000', borderWidth: 1, backgroundColor: 'transparent'},
  xAxis: {
    type: 'value', min: 2.283, max: 9.337,
    name: 'Julian Date', nameLocation: 'middle', nameGap: 46,
    nameTextStyle: {fontFamily: FONT, fontSize: 26, color: '#000'},
    axisLine: {show: true, lineStyle: {color: '#000', width: 1}},
    axisTick: {show: true, inside: false, length: 7, lineStyle: {color: '#000', width: 1}, customValues: xTicks},
    axisLabel: {show: true, margin: 14, fontFamily: FONT, fontSize: 26, color: '#000', customValues: xTicks, formatter: v => String(Math.round(v))},
    splitLine: {show: false}
  },
  yAxis: {
    type: 'value', min: 0.9703, max: 1.02,
    name: 'Normalized Intensity', nameLocation: 'middle', nameGap: 84, nameRotate: 90,
    nameTextStyle: {fontFamily: FONT, fontSize: 26, color: '#000'},
    axisLine: {show: true, lineStyle: {color: '#000', width: 1}},
    axisTick: {show: true, inside: false, length: 7, lineStyle: {color: '#000', width: 1}, customValues: yTicks},
    axisLabel: {show: true, margin: 16, fontFamily: FONT, fontSize: 26, color: '#000', customValues: yTicks, formatter: v => v.toFixed(2)},
    splitLine: {show: false}
  },
  legend: {
    orient: 'vertical', left: 404, top: 545,
    itemWidth: 45, itemHeight: 20, itemGap: 4,
    padding: [4, 8, 6, 8],
    backgroundColor: 'rgba(255,255,255,0.85)', borderColor: '#cccccc', borderWidth: 1, borderRadius: 4,
    textStyle: {fontFamily: FONT, fontSize: 17.5, color: '#000'},
    selectedMode: false,
    data: [
      {name: 'Transit model', icon: 'path://M0 0 M45 20 M0 8.7 L37 8.7 L37 11.3 L0 11.3 Z', itemStyle: {color: 'rgba(255,0,0,0.5)', borderWidth: 0}},
      {name: 'Raw photometry', icon: 'path://M0 0 M45 20 M21 10 A3 3 0 1 1 15 10 A3 3 0 1 1 21 10 Z', itemStyle: {color: '#c1c4c9', borderWidth: 0}},
      {name: 'In transit', icon: 'path://M0 0 M45 20 M14.5 6.5 L21.5 6.5 L21.5 13.5 L14.5 13.5 Z', itemStyle: {color: '#800080', borderWidth: 0}},
      {name: 'Binned photometry', icon: 'path://M0 0 M45 20 M18 2 L18 18 M14.5 2 L21.5 2 M14.5 18 L21.5 18 M21 10 A3 3 0 1 1 15 10 A3 3 0 1 1 21 10', itemStyle: {color: 'rgba(0,0,0,0)', borderColor: '#000', borderWidth: 1}}
    ]
  },
  graphic: [
    {type: 'text', x: 521, y: 22, style: {
      text: 'J1146+2230 f, m{sub|J} = 14.16, {it|σ} = 0.005',
      fontFamily: FONT, fontSize: 26, fill: '#000', align: 'center', verticalAlign: 'middle',
      rich: {sub: {fontFamily: FONT, fontSize: 17, fontStyle: 'italic', fill: '#000', verticalAlign: 'bottom', lineHeight: 34},
             it: {fontFamily: FONT, fontSize: 26, fontStyle: 'italic', fill: '#000'}}
    }},
    {type: 'text', x: 521, y: 60, style: {text: 'Injected 1.71% Transit, SNR = 47.57', fontFamily: FONT, fontSize: 26, fill: '#000', align: 'center', verticalAlign: 'middle'}},
    {type: 'text', x: 967, y: 704, style: {text: xOffsetText, fontFamily: FONT, fontSize: 26, fill: '#000', align: 'right', verticalAlign: 'middle'}}
  ],
  series: [
    {name: 'Raw photometry', type: 'scatter', data: rawAll, symbol: 'circle', symbolSize: 8,
     itemStyle: {color: '#c1c4c9', opacity: 1}, z: 1, silent: true},
    {name: 'Binned photometry', type: 'custom', data: binAll, z: 2, silent: true,
     encode: {x: 0, y: 1},
     renderItem: function (params, api) {
       const t = api.value(0), f = api.value(1), e = api.value(2);
       const top = api.coord([t, f + e]);
       const bot = api.coord([t, f - e]);
       const st = {stroke: BIN_COLOR, lineWidth: 1.1};
       return {type: 'group', children: [
         {type: 'line', shape: {x1: top[0], y1: top[1], x2: bot[0], y2: bot[1]}, style: st},
         {type: 'line', shape: {x1: top[0] - CAP, y1: top[1], x2: top[0] + CAP, y2: top[1]}, style: st},
         {type: 'line', shape: {x1: bot[0] - CAP, y1: bot[1], x2: bot[0] + CAP, y2: bot[1]}, style: st}
       ]};
     }},
    {name: 'Binned photometry', type: 'scatter', data: binAll.map(d => [d[0], d[1]]), symbol: 'circle', symbolSize: 8, z: 3, silent: true,
     itemStyle: {color: 'rgba(0,0,0,0)', borderColor: BIN_COLOR, borderWidth: 1.1}},
    {name: 'Transit model', type: 'line', data: modelCurve, showSymbol: false, symbol: 'none', z: 4, silent: true,
     lineStyle: {color: '#ff0000', width: 3.5, opacity: 0.5}, itemStyle: {color: 'rgba(255,0,0,0.5)'}},
    {name: 'In transit', type: 'scatter', data: inTransit, symbol: 'rect', symbolSize: 9, z: 5, silent: true,
     itemStyle: {color: '#800080', opacity: 1}}
  ]
};
chart.setOption(option);
</script>
</body>
</html>
